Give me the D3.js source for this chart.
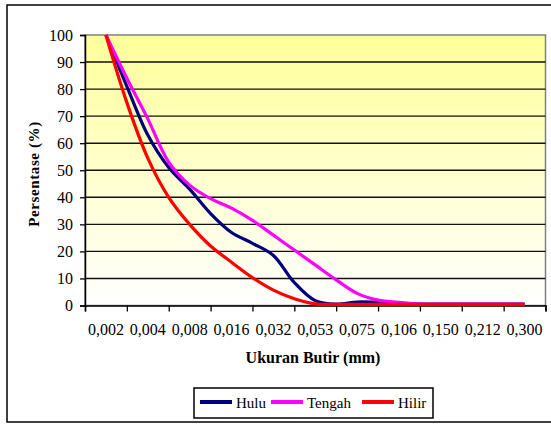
<!DOCTYPE html>
<html>
<head>
<meta charset="utf-8">
<script src="https://cdn.jsdelivr.net/npm/d3@7"></script>
<style>
  body { margin: 0; background: #fff; }
  svg text { font-family: "Liberation Serif", "DejaVu Serif", "Times New Roman", serif; }
</style>
</head>
<body>
<div id="chart"></div>
<script>
// category labels on the x axis (grain size, mm)
const sizes = ["0,002", "0,004", "0,008", "0,016", "0,032", "0,053", "0,075", "0,106", "0,150", "0,212", "0,300"];

// readings every half category, starting at 0,002 and ending at 0,300
const hulu   = [100, 81, 63, 51, 43, 34, 27, 23, 18.5, 8.5, 1.8, 0.5, 1.3, 1.2, 0.8, 0.5, 0.5, 0.5, 0.5, 0.5, 0.5];
const tengah = [100, 84, 69, 53, 44.5, 39.5, 36, 31.5, 26, 20.5, 15, 9.5, 4.5, 2, 1.2, 0.5, 0.5, 0.5, 0.5, 0.5, 0.5];
const hilir  = [100, 75, 54.5, 40, 30, 22, 16, 10.3, 5.7, 2.5, 0.6, 0.4, 0.4, 0.4, 0.4, 0.4, 0.4, 0.4, 0.4, 0.4, 0.4];

const yTicks = [0, 10, 20, 30, 40, 50, 60, 70, 80, 90, 100];

const series = [
  { name: "Hulu", values: hulu, color: "#000080" },
  { name: "Tengah", values: tengah, color: "#ff00ff" },
  { name: "Hilir", values: hilir, color: "#ff0000" }
];

const W = 551, H = 424;
const plot = { left: 85, right: 545.5, top: 35, bottom: 305.5 };
const serif = "Liberation Serif, DejaVu Serif, serif";

const svg = d3.select("#chart").append("svg")
  .attr("width", W)
  .attr("height", H);

// outer chart border
svg.append("rect")
  .attr("x", 7).attr("y", 5)
  .attr("width", W).attr("height", 417)
  .attr("fill", "#fff")
  .attr("stroke", "#000")
  .attr("stroke-width", 1.5);

// x: categories at integers, ticks on the half steps between them
const x = d3.scaleLinear()
  .domain([-0.5, sizes.length - 0.5])
  .range([plot.left, plot.right]);

const y = d3.scaleLinear()
  .domain([0, 100])
  .range([plot.bottom, plot.top]);

// plot area gradient, yellow at top fading to white
const grad = svg.append("defs").append("linearGradient")
  .attr("id", "bg")
  .attr("x1", 0).attr("y1", 0).attr("x2", 0).attr("y2", 1);
grad.append("stop").attr("offset", "0%").attr("stop-color", "#ffff99");
grad.append("stop").attr("offset", "100%").attr("stop-color", "#ffffff");

svg.append("rect")
  .attr("x", plot.left).attr("y", plot.top)
  .attr("width", plot.right - plot.left)
  .attr("height", plot.bottom - plot.top)
  .attr("fill", "url(#bg)")
  .attr("stroke", "#808080")
  .attr("stroke-width", 1.5);

// horizontal gridlines
svg.append("g")
  .selectAll("line")
  .data(yTicks.filter(d => d > 0 && d < 100))
  .enter().append("line")
  .attr("x1", plot.left).attr("x2", plot.right)
  .attr("y1", d => y(d)).attr("y2", d => y(d))
  .attr("stroke", "#111")
  .attr("stroke-width", 1.4);

// y axis
svg.append("g")
  .attr("transform", `translate(${plot.left},0)`)
  .call(d3.axisLeft(y).tickValues(yTicks).tickSize(5).tickPadding(7).tickFormat(d3.format("d")))
  .attr("font-family", serif)
  .attr("font-size", 16)
  .selectAll("text").attr("fill", "#000");

// x axis: tick marks at category boundaries, labels centred in each category
const boundaries = d3.range(sizes.length + 1).map(i => i - 0.5);
svg.append("g")
  .attr("transform", `translate(0,${plot.bottom})`)
  .call(d3.axisBottom(x).tickValues(boundaries).tickSize(6).tickFormat(""));

svg.append("g")
  .selectAll("text")
  .data(sizes)
  .enter().append("text")
  .attr("x", (d, i) => x(i))
  .attr("y", 335)
  .attr("text-anchor", "middle")
  .attr("font-size", 16)
  .text(d => d);

svg.selectAll(".domain").attr("stroke", "#000").attr("stroke-width", 1.5);
svg.selectAll(".tick line").attr("stroke", "#000").attr("stroke-width", 1.3);

// lines (smoothed like Excel)
const line = d3.line()
  .x((d, i) => x(i / 2))
  .y(d => y(d))
  .curve(d3.curveCatmullRom.alpha(0.5));

svg.append("g")
  .selectAll("path")
  .data(series)
  .enter().append("path")
  .attr("d", d => line(d.values))
  .attr("fill", "none")
  .attr("stroke", d => d.color)
  .attr("stroke-width", 3.2)
  .attr("stroke-linejoin", "round");

// axis titles
svg.append("text")
  .attr("x", 313).attr("y", 363)
  .attr("text-anchor", "middle")
  .attr("font-size", 16)
  .attr("font-weight", "bold")
  .text("Ukuran Butir (mm)");

svg.append("text")
  .attr("transform", "translate(39,174) rotate(-90)")
  .attr("text-anchor", "middle")
  .attr("font-size", 15)
  .attr("font-weight", "bold")
  .attr("letter-spacing", 0.6)
  .text("Persentase (%)");

// legend
const legend = svg.append("g");
legend.append("rect")
  .attr("x", 194).attr("y", 388)
  .attr("width", 239).attr("height", 30)
  .attr("fill", "#fff")
  .attr("stroke", "#000")
  .attr("stroke-width", 1.5);

const legendX = [200, 271, 362];
series.forEach((s, i) => {
  legend.append("line")
    .attr("x1", legendX[i]).attr("x2", legendX[i] + 32)
    .attr("y1", 402).attr("y2", 402)
    .attr("stroke", s.color)
    .attr("stroke-width", 4);
  legend.append("text")
    .attr("x", legendX[i] + 36).attr("y", 408)
    .attr("font-size", 15)
    .text(s.name);
});

svg.selectAll("text").attr("font-family", serif);
</script>
</body>
</html>
